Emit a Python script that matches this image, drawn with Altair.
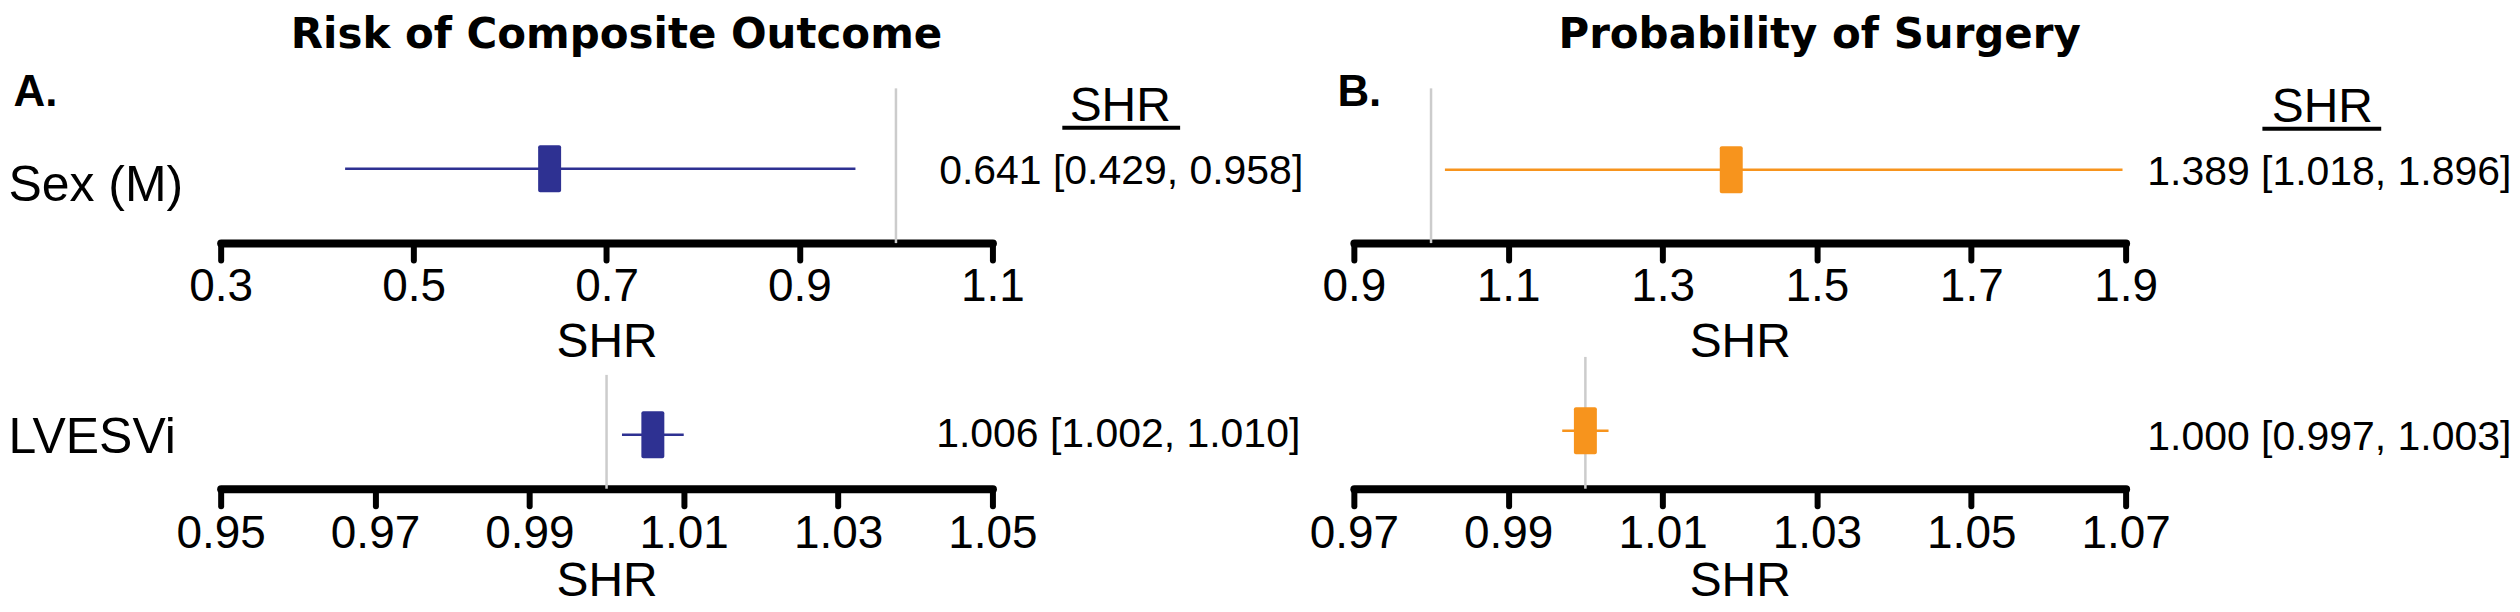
import altair as alt
import pandas as pd

# ---------------- data ----------------
variables = ["Sex (M)", "LVESVi"]

comp_est = [0.641, 1.006]
comp_lo = [0.429, 1.002]
comp_hi = [0.958, 1.010]

surg_est = [1.389, 1.000]
surg_lo = [1.018, 0.997]
surg_hi = [1.896, 1.003]

comp_domains = [[0.3, 1.1], [0.95, 1.05]]
surg_domains = [[0.9, 1.9], [0.97, 1.07]]
comp_ticks = [[0.3, 0.5, 0.7, 0.9, 1.1], [0.95, 0.97, 0.99, 1.01, 1.03, 1.05]]
surg_ticks = [[0.9, 1.1, 1.3, 1.5, 1.7, 1.9], [0.97, 0.99, 1.01, 1.03, 1.05, 1.07]]

panel_titles = ["Risk of Composite Outcome", "Probability of Surgery"]
panel_letters = ["A.", "B."]
null_value = 1.0
header_text = "SHR"
axis_title = "SHR"
colors = ["#2E3192", "#F7941D"]

FONT = "Liberation Sans, Arial, Helvetica, sans-serif"
TFONT = "DejaVu Sans, Liberation Sans, Arial, sans-serif"
LFONT = "Liberation Sans, Arial, sans-serif"

# layout / style per panel (col, row)
STYLE = {
    (0, 0): dict(h=155, off=3, tdx=129, tdy=15, hdx=128, ux=(70, 188), lab_off=20,
                 lp=4, tp=10, tdx_title=10),
    (1, 0): dict(h=155, off=4, tdx=204, tdy=15, hdx=197, ux=(137, 256), lab_off=20,
                 lp=4, tp=10, tdx_title=80),
    (0, 1): dict(h=132, off=12, tdx=126, tdy=12, lab_off=15, lp=6, tp=1, ref_top=18),
    (1, 1): dict(h=132, off=8, tdx=204, tdy=19, lab_off=15, lp=6, tp=1),
}


def panel(col, row):
    est = [comp_est, surg_est][col][row]
    lo = [comp_lo, surg_lo][col][row]
    hi = [comp_hi, surg_hi][col][row]
    domain = [comp_domains, surg_domains][col][row]
    ticks = [comp_ticks, surg_ticks][col][row]
    color = colors[col]
    s = STYLE[(col, row)]

    df = pd.DataFrame({
        "var": [variables[row]],
        "est": [est],
        "lo": [lo],
        "hi": [hi],
        "txt": [f"{est:.3f} [{lo:.3f}, {hi:.3f}]"],
    })

    xs = alt.Scale(domain=domain, nice=False, zero=False)
    xa = alt.Axis(
        values=ticks, format=".1f" if row == 0 else ".2f", title=axis_title,
        grid=False, domainColor="black", domainWidth=8, domainCap="round",
        tickColor="black", tickWidth=6, tickSize=17, tickCap="round",
        labelFont=FONT, labelFontSize=46, labelColor="black",
        labelPadding=s["lp"], labelFlush=False, labelOverlap=False,
        titleFont=FONT, titleFontSize=48, titleFontWeight="normal",
        titleColor="black", titlePadding=s["tp"],
    )

    yargs = dict(domain=False, ticks=False, tickSize=0, grid=False)
    if col == 0:
        yargs.update(labelFont=FONT, labelFontSize=50, labelColor="black",
                     labelAlign="left", labelBaseline="middle",
                     labelPadding=213, labelOffset=s["lab_off"])
    else:
        yargs.update(labels=False)
    if row == 0:
        yargs.update(title=panel_letters[col], titleAngle=0, titleAlign="left",
                     titleBaseline="alphabetic",
                     titleX=-208 if col == 0 else -17, titleY=17,
                     titleFont=LFONT, titleFontSize=44, titleFontWeight="bold",
                     titleColor="black")
    else:
        yargs.update(title=None)
    ya = alt.Axis(**yargs)
    ys = alt.Scale(type="point")

    def X(**kw):
        return alt.X(scale=xs, axis=xa, **kw)

    Y = alt.Y("var:N", scale=ys, axis=ya)

    base = alt.Chart(df)
    off = s["off"]

    if "ref_top" in s:
        ref = base.mark_rule(color="#CCCCCC", strokeWidth=2.5).encode(
            x=X(datum=null_value), y=alt.value(s["ref_top"]), y2=alt.value(s["h"]))
    else:
        ref = base.mark_rule(color="#CCCCCC", strokeWidth=2.5).encode(
            x=X(datum=null_value))

    ci = base.mark_rule(color=color, strokeWidth=2.5, yOffset=off).encode(
        x=X(field="lo", type="quantitative"), x2="hi:Q", y=Y)

    box = base.mark_tick(color=color, thickness=23, size=47, orient="vertical",
                         opacity=1, cornerRadius=2, yOffset=off).encode(
        x=X(field="est", type="quantitative"), y=Y)

    txt = base.mark_text(font=FONT, fontSize=41, color="black", align="center",
                         baseline="alphabetic", dx=s["tdx"], dy=off + s["tdy"]).encode(
        x=X(datum=domain[1]), y=Y, text="txt:N")

    layers = [ref, ci, box, txt]

    if row == 0:
        head = base.mark_text(font=FONT, fontSize=48, color="black", align="center",
                              baseline="alphabetic", dx=s["hdx"], dy=off - 48).encode(
            x=X(datum=domain[1]), y=Y, text=alt.value(header_text))
        under = base.mark_rule(color="black", strokeWidth=4,
                               xOffset=s["ux"][0], x2Offset=s["ux"][1],
                               yOffset=off - 41).encode(
            x=X(datum=domain[1]), x2=alt.X2(datum=domain[1]), y=Y)
        layers += [head, under]

    ch = alt.layer(*layers).properties(width=773, height=s["h"])
    if row == 0:
        ch = ch.properties(title=alt.TitleParams(
            text=panel_titles[col], font=TFONT, fontSize=42, fontWeight="bold",
            anchor="middle", frame="group", baseline="alphabetic", offset=-20,
            dx=s["tdx_title"], color="black"))
    return ch


chart = alt.concat(
    panel(0, 0), panel(1, 0), panel(0, 1), panel(1, 1),
    columns=2, spacing={"row": 114, "column": 362}, bounds="flush",
    padding={"top": 6, "left": 0, "right": 0, "bottom": 0},
).resolve_scale(x="independent", y="independent").configure(
    font=FONT, background="white", view=alt.ViewConfig(stroke=None))

chart.save("out.html", embed_options={"renderer": "svg", "actions": False})
